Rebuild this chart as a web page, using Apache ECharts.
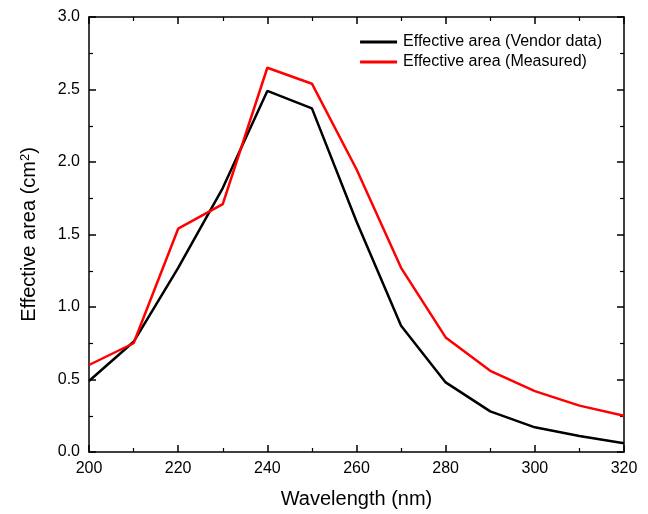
<!DOCTYPE html>
<html><head><meta charset="utf-8">
<script src="https://cdn.jsdelivr.net/npm/echarts@6/dist/echarts.min.js"></script>
<style>html,body{margin:0;padding:0;background:#fff}#c{width:648px;height:514px}</style>
</head><body><div id="c"></div>
<script>
const wavelengths = [200,210,220,230,240,250,260,270,280,290,300,310,320];
const vendor = [0.49,0.76,1.27,1.82,2.49,2.37,1.59,0.87,0.48,0.28,0.17,0.11,0.06];
const measured = [0.60,0.75,1.54,1.71,2.65,2.54,1.95,1.27,0.79,0.56,0.42,0.32,0.25];
const seriesNames = ['Effective area (Vendor data)','Effective area (Measured)'];

const font = 'Liberation Sans, Arial, sans-serif';
const axisLine = {show:true, onZero:false, lineStyle:{color:'#000', width:1.5}};
function frameAxis(base, pos, showLabel){
  return Object.assign({
    position: pos,
    axisLine: axisLine,
    axisTick: {show:true, inside:true, length:7, lineStyle:{color:'#000', width:1.5}},
    minorTick: {show:true, splitNumber:2, length:4, lineStyle:{color:'#000', width:1.2}},
    splitLine: {show:false},
    axisLabel: {show:showLabel, color:'#000', fontSize:16, fontFamily:font, margin:9}
  }, base);
}
const chart = echarts.init(document.getElementById('c'));
chart.setOption({
  animation:false,
  grid:{left:89, top:17, right:24, bottom:61},
  legend:{
    show:true, top:29, right:41, orient:'vertical', itemGap:4,
    itemWidth:37, itemHeight:3, icon:'rect',
    textStyle:{fontSize:16, fontFamily:font, color:'#000', padding:[0,0,0,1]},
    data:seriesNames
  },
  xAxis:[
    frameAxis({type:'value', min:200, max:320, interval:20, name:'Wavelength (nm)', nameLocation:'middle', nameGap:37,
      nameTextStyle:{fontSize:20, fontFamily:font, color:'#000'}}, 'bottom', true),
    frameAxis({type:'value', min:200, max:320, interval:20}, 'top', false)
  ],
  yAxis:[
    frameAxis({type:'value', min:0, max:3, interval:0.5, name:'Effective area (cm{sup|2})', nameLocation:'middle', nameGap:49,
      nameTextStyle:{fontSize:20, fontFamily:font, color:'#000',
        rich:{sup:{fontSize:13, fontFamily:font, color:'#000', verticalAlign:'top', padding:[0,0,8,0]}}},
      axisLabel:{show:true, color:'#000', fontSize:16, fontFamily:font, margin:9, formatter:v=>v.toFixed(1)}}, 'left', true),
    frameAxis({type:'value', min:0, max:3, interval:0.5}, 'right', false)
  ],
  series:[
    {name:seriesNames[0], type:'line', data:wavelengths.map((w,i)=>[w,vendor[i]]), showSymbol:false, symbol:'none',
      lineStyle:{color:'#000', width:2.5}, itemStyle:{color:'#000'}, z:2},
    {name:seriesNames[1], type:'line', data:wavelengths.map((w,i)=>[w,measured[i]]), showSymbol:false, symbol:'none',
      lineStyle:{color:'#ff0000', width:2.5}, itemStyle:{color:'#ff0000'}, z:3}
  ]
});
</script></body></html>
